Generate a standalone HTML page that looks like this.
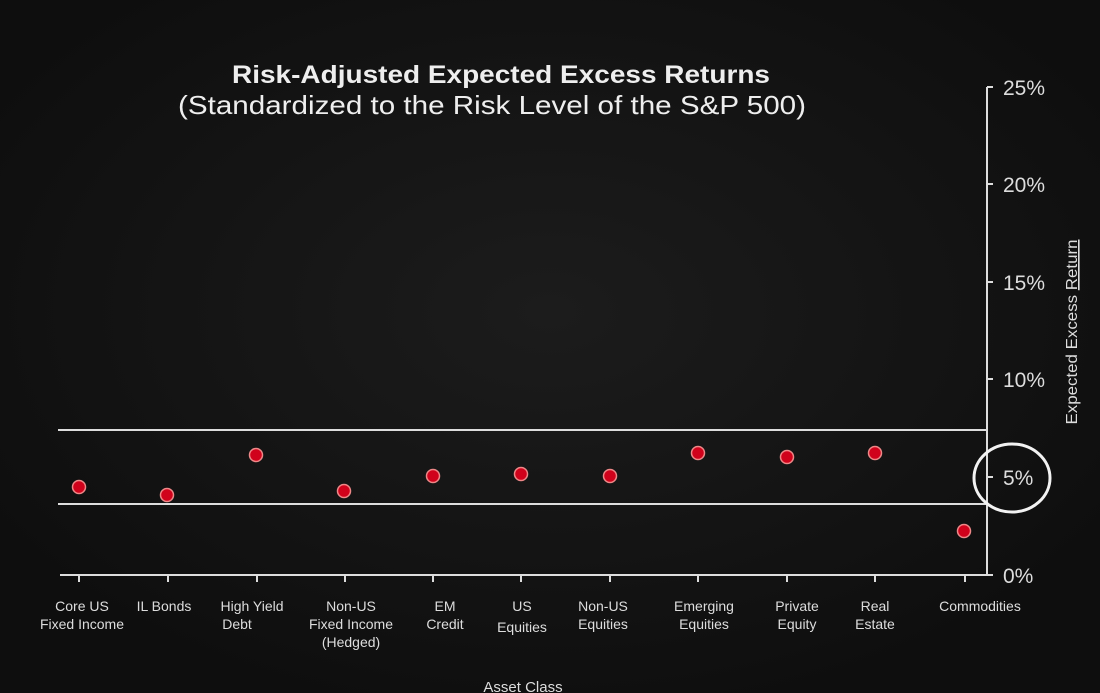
<!DOCTYPE html>
<html><head><style>
html,body{margin:0;padding:0;background:#111;}
svg{display:block;}
text{font-family:"Liberation Sans Narrow","Liberation Sans",sans-serif;fill:#ddd;}
</style></head><body>
<svg width="1100" height="693" viewBox="0 0 1100 693" xmlns="http://www.w3.org/2000/svg">
<defs><radialGradient id="g" cx="50%" cy="45%" r="60%"><stop offset="0" stop-color="#1c1c1c"/><stop offset="1" stop-color="#0e0e0e"/></radialGradient></defs>
<rect width="1100" height="693" fill="url(#g)"/>
<text x="232" y="83" textLength="538" lengthAdjust="spacingAndGlyphs" style="font-family:'Liberation Sans',sans-serif;font-weight:bold;font-size:25px;fill:#eee">Risk-Adjusted Expected Excess Returns</text>
<text x="178" y="114" textLength="628" lengthAdjust="spacingAndGlyphs" style="font-family:'Liberation Sans',sans-serif;font-size:26px;fill:#eee">(Standardized to the Risk Level of the S&amp;P 500)</text>
<g stroke="#ddd" stroke-width="2" fill="none">
<line x1="987" y1="87" x2="987" y2="576"/>
<line x1="60" y1="575" x2="988" y2="575"/>
<line x1="58" y1="430" x2="986" y2="430"/>
<line x1="58" y1="504" x2="986" y2="504"/>
<line x1="987" y1="87" x2="993" y2="87"/><line x1="987" y1="184" x2="993" y2="184"/><line x1="987" y1="282" x2="993" y2="282"/><line x1="987" y1="379" x2="993" y2="379"/><line x1="987" y1="477" x2="993" y2="477"/><line x1="987" y1="575" x2="993" y2="575"/>
<line x1="79" y1="575" x2="79" y2="582"/><line x1="168" y1="575" x2="168" y2="582"/><line x1="257" y1="575" x2="257" y2="582"/><line x1="345" y1="575" x2="345" y2="582"/><line x1="433" y1="575" x2="433" y2="582"/><line x1="521" y1="575" x2="521" y2="582"/><line x1="610" y1="575" x2="610" y2="582"/><line x1="698" y1="575" x2="698" y2="582"/><line x1="787" y1="575" x2="787" y2="582"/><line x1="875" y1="575" x2="875" y2="582"/><line x1="965" y1="575" x2="965" y2="582"/>
<ellipse cx="1012" cy="478" rx="38" ry="34" stroke="#f2f2f2" stroke-width="3"/>
</g>
<g style="font-size:21px">
<text x="1003" y="95">25%</text><text x="1003" y="192">20%</text><text x="1003" y="290">15%</text><text x="1003" y="387">10%</text><text x="1003" y="485">5%</text><text x="1003" y="583">0%</text>
</g>
<text transform="translate(1077,332) rotate(-90)" text-anchor="middle" textLength="185" lengthAdjust="spacingAndGlyphs" style="font-size:16px">Expected Excess <tspan text-decoration="underline">Return</tspan></text>
<g fill="#d0021b" stroke="#e88" stroke-width="1.5">
<circle cx="79" cy="487" r="6.5"/><circle cx="167" cy="495" r="6.5"/><circle cx="256" cy="455" r="6.5"/><circle cx="344" cy="491" r="6.5"/><circle cx="433" cy="476" r="6.5"/><circle cx="521" cy="474" r="6.5"/><circle cx="610" cy="476" r="6.5"/><circle cx="698" cy="453" r="6.5"/><circle cx="787" cy="457" r="6.5"/><circle cx="875" cy="453" r="6.5"/><circle cx="964" cy="531" r="6.5"/>
</g>
<g style="font-size:14px" text-anchor="middle">
<text x="82" y="611">Core US</text><text x="82" y="629">Fixed Income</text>
<text x="164" y="611">IL Bonds</text>
<text x="252" y="611">High Yield</text><text x="237" y="629">Debt</text>
<text x="351" y="611">Non-US</text><text x="351" y="629">Fixed Income</text><text x="351" y="647">(Hedged)</text>
<text x="445" y="611">EM</text><text x="445" y="629">Credit</text>
<text x="522" y="611">US</text><text x="522" y="632">Equities</text>
<text x="603" y="611">Non-US</text><text x="603" y="629">Equities</text>
<text x="704" y="611">Emerging</text><text x="704" y="629">Equities</text>
<text x="797" y="611">Private</text><text x="797" y="629">Equity</text>
<text x="875" y="611">Real</text><text x="875" y="629">Estate</text>
<text x="980" y="611">Commodities</text>
<text x="523" y="692" style="font-size:15px">Asset Class</text>
</g>
</svg>
</body></html>
